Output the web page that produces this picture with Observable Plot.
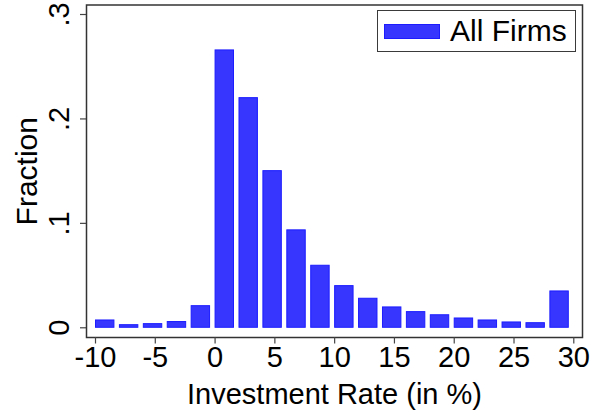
<!DOCTYPE html>
<html>
<head>
<meta charset="utf-8">
<script src="https://cdn.jsdelivr.net/npm/d3@7"></script>
<script src="https://cdn.jsdelivr.net/npm/@observablehq/plot@0.6"></script>
<style>
  html, body { margin: 0; padding: 0; background: #fff; }
  #wrap { position: relative; width: 592px; height: 410px; font-family: "Liberation Sans", Arial, sans-serif; }
  #legend { position: absolute; left: 377px; top: 9.5px; width: 199px; height: 42px; border: 1.2px solid #3a3a3a; box-sizing: border-box; background: #fff; }
  #legend .sw { position: absolute; left: 5.5px; top: 13px; width: 56px; height: 15px; background: #3636ff; border: 1px solid #1c1cff; box-sizing: border-box; }
  #legend .lb { position: absolute; left: 72px; top: 3px; font-size: 30px; line-height: 34px; color: #000; white-space: nowrap; }
</style>
</head>
<body>
<div id="wrap"></div>
<script>
// Data
const binStart = [-10, -8, -6, -4, -2, 0, 2, 4, 6, 8, 10, 12, 14, 16, 18, 20, 22, 24, 26, 28];
const binWidth = 2;
const fraction = [0.007, 0.0025, 0.0035, 0.0055, 0.0207, 0.2656, 0.2199, 0.150, 0.0933, 0.0594,
                  0.0399, 0.0278, 0.0195, 0.015, 0.012, 0.0089, 0.007, 0.0051, 0.0044, 0.0348];
const xTicks = [-10, -5, 0, 5, 10, 15, 20, 25, 30];
const yTicks = [0, 0.1, 0.2, 0.3];
const yTickLabels = ["0", ".1", ".2", ".3"];
const xTitle = "Investment Rate (in %)";
const yTitle = "Fraction";
const seriesName = "All Firms";

const bins = binStart.map((s, i) => ({x1: s, x2: s + binWidth, y: fraction[i]}));
const font = "'Liberation Sans', Arial, sans-serif";

const chart = Plot.plot({
  width: 592,
  height: 410,
  marginLeft: 86,
  marginRight: 10,
  marginTop: 4.5,
  marginBottom: 73,
  style: {fontFamily: font, background: "#fff", color: "#000"},
  x: {domain: [-10.753, 30.728]},
  y: {domain: [-0.0093, 0.3091]},
  marks: [
    Plot.rectY(bins, {x1: "x1", x2: "x2", y1: 0, y2: "y", fill: "#3636ff", stroke: "#1c1cff", strokeWidth: 1, insetLeft: 0.5, insetRight: 5}),
    Plot.frame({stroke: "#333", strokeWidth: 1.5}),
    Plot.axisX({ticks: xTicks, tickSize: 6.5, tickPadding: 2.5, fontSize: 29, label: null, stroke: "#444", strokeWidth: 1.2, tickFormat: d => String(d)}),
    Plot.axisY({ticks: yTicks, tickSize: 6, label: null, stroke: "#444", strokeWidth: 1.2, tickFormat: () => ""}),
    Plot.text(yTicks, {y: d => d, text: (d, i) => yTickLabels[i], frameAnchor: "left", rotate: -90, textAnchor: "middle", lineAnchor: "bottom", dx: -18, fontSize: 29, fill: "#000"}),
    Plot.text([yTitle], {text: d => d, frameAnchor: "left", rotate: -90, textAnchor: "middle", lineAnchor: "bottom", dx: -50, fontSize: 30, fill: "#000"}),
    Plot.text([xTitle], {text: d => d, frameAnchor: "bottom", textAnchor: "middle", lineAnchor: "bottom", dy: 66, fontSize: 29, fill: "#000"})
  ]
});

const wrap = document.getElementById("wrap");
wrap.appendChild(chart);
const legend = document.createElement("div");
legend.id = "legend";
legend.innerHTML = '<div class="sw"></div><div class="lb"></div>';
legend.querySelector(".lb").textContent = seriesName;
wrap.appendChild(legend);
</script>
</body>
</html>
